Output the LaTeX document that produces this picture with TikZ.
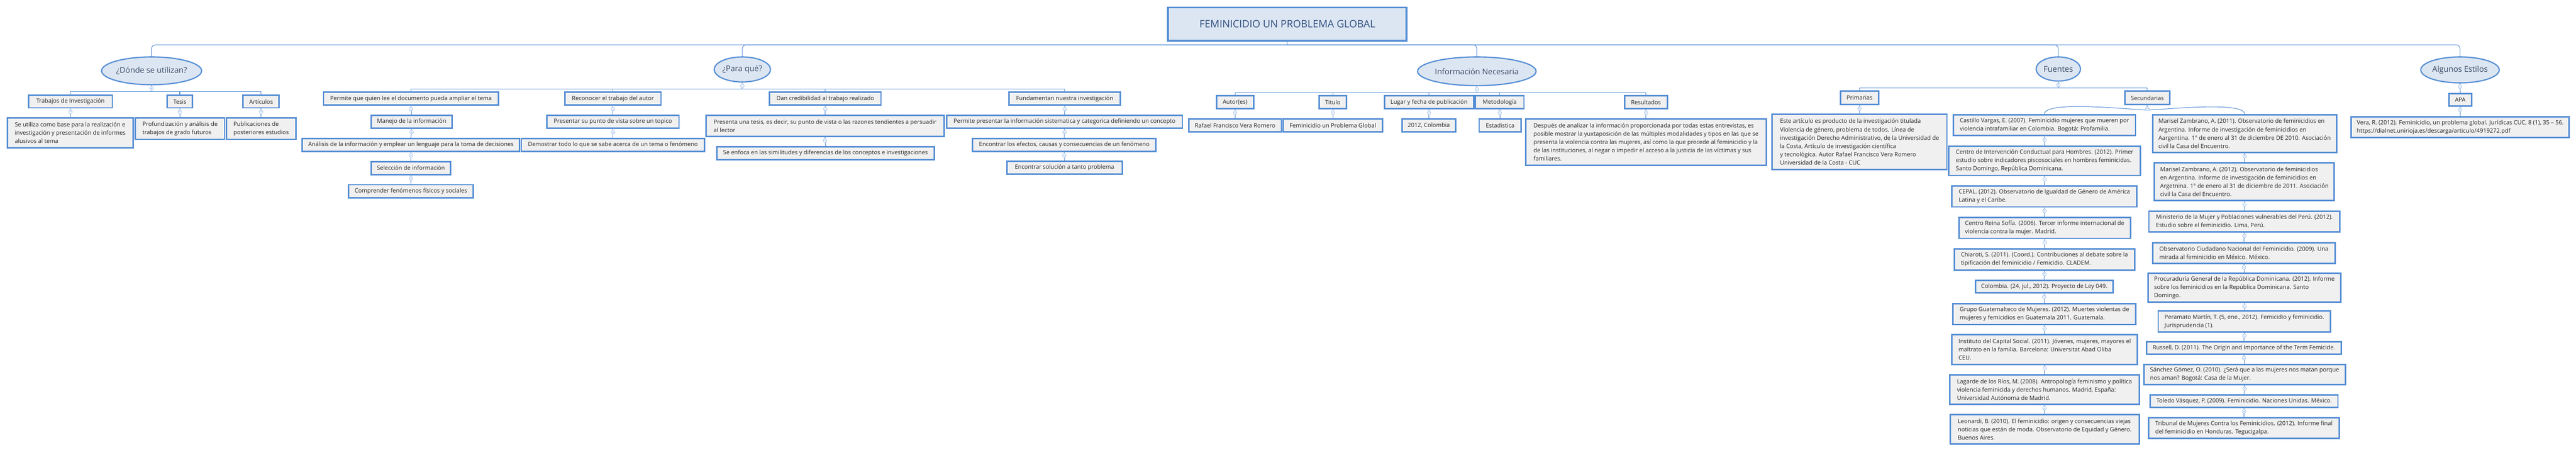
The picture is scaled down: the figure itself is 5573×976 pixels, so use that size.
\documentclass[tikz,border=0pt]{standalone}
\usepackage{fontspec}
\setmainfont{Open Sans}
\usetikzlibrary{shapes.geometric}
\definecolor{bord}{HTML}{558ED5}
\definecolor{boxf}{HTML}{F0F0F0}
\definecolor{ellf}{HTML}{DCE6F2}
\definecolor{knobc}{HTML}{A9C4EB}
\definecolor{titc}{HTML}{2F4E7E}
\definecolor{elt}{HTML}{3A4A66}
\tikzset{
  bx/.style={draw=bord,fill=boxf,line width=1.6pt,inner xsep=6pt,inner ysep=2pt,align=left,
    font=\fontsize{6.3}{9}\selectfont,text=black!85},
  ell/.style={ellipse,draw=bord,fill=ellf,line width=1.3pt,inner sep=0pt,text=elt,
    font=\fontsize{8.6}{10}\selectfont},
  conn/.style={draw=bord,line width=0.6pt},
  knob/.style={draw=knobc,fill=white,line width=0.5pt},
  knobm/.style={draw=knobc,line width=0.5pt}
}
\newcommand\bx[6]{%
  \pgfmathsetmacro\bw{(#4-#2)*0.5}\pgfmathsetmacro\bh{(#5-#3)*0.5}%
  \node[bx,minimum width=\bw pt,minimum height=\bh pt] (#1) at ({(#2+#4)/2},{(#3+#5)/2}) {#6};}
\newcommand\el[6]{\node[ell,minimum width=#4pt,minimum height=#5pt] (#1) at (#2,#3) {#6};}
\newcommand\kn[1]{\draw[knob] ([yshift=-3.5pt]#1.south) circle (2pt);
  \draw[knobm] ([yshift=-3.5pt,xshift=-1.1pt]#1.south) -- ++(2.2pt,0);}
\newcommand\ch[2]{\draw[conn] (#1.south) -- (#2.north);}
\begin{document}
\begin{tikzpicture}[x=0.5pt,y=-0.5pt]
\useasboundingbox[fill=white] (0,0) rectangle (5573,976);
% title
\node[draw=bord,fill=ellf,line width=2pt,minimum width=258pt,minimum height=36pt,text=titc,
  font=\fontsize{11}{13}\selectfont] (title) at (2785,52) {FEMINICIDIO UN PROBLEMA GLOBAL};
% main ellipses
\el{donde}{328}{153}{93}{30}{¿Dónde se utilizan?}
\el{paraque}{1606}{150}{58}{27}{¿Para qué?}
\el{info}{3195}{154}{110}{31}{Información Necesaria}
\el{fuentes}{4453}{149}{48}{26}{Fuentes}
\el{estilos}{5322}{151}{75}{28}{Algunos Estilos}
% Donde
\bx{d1}{62}{206}{243}{233}{Trabajos de Investigación}
\bx{d2}{362}{206}{416}{233}{Tesis}
\bx{d3}{526}{206}{604}{233}{Artículos}
\bx{d1a}{16}{255}{288}{319}{Se utiliza como base para la realización e\\investigación y presentación de informes\\alusivos al tema}
\bx{d2a}{293}{255}{486}{301}{Profundización y análisis de\\trabajos de grado futuros}
\bx{d3a}{490}{255}{640}{301}{Publicaciones de\\posteriores estudios}
% Para que
\bx{pa1}{700}{199}{1078}{227}{Permite que quien lee el documento pueda ampliar el tema}
\bx{pa2}{803}{249}{978}{277}{Manejo de la información}
\bx{pa3}{654}{299}{1124}{327}{Análisis de la información y emplear un lenguaje para la toma de decisiones}
\bx{pa4}{803}{349}{975}{377}{Selección de información}
\bx{pa5}{754}{399}{1024}{427}{Comprender fenómenos físicos y sociales}
\bx{pb1}{1222}{199}{1430}{227}{Reconocer el trabajo del autor}
\bx{pb2}{1183}{249}{1469}{277}{Presentar su punto de vista sobre un topico}
\bx{pb3}{1128}{299}{1524}{327}{Demostrar todo lo que se sabe acerca de un tema o fenómeno}
\bx{pc1}{1665}{199}{1906}{227}{Dan credibilidad al trabajo realizado}
\bx{pc2}{1528}{249}{2042}{295}{Presenta una tesis, es decir, su punto de vista o las razones tendientes a persuadir\\al lector}
\bx{pc3}{1551}{317}{2021}{345}{Se enfoca en las similitudes y diferencias de los conceptos e investigaciones}
\bx{pd1}{2183}{199}{2424}{227}{Fundamentan nuestra investigación}
\bx{pd2}{2048}{249}{2558}{277}{Permite presentar la información sistematica y categorica definiendo un concepto}
\bx{pd3}{2104}{299}{2501}{327}{Encontrar los efectos, causas y consecuencias de un fenómeno}
\bx{pd4}{2178}{348}{2428}{376}{Encontrar solución a tanto problema}
% Info
\bx{i1}{2632}{207}{2712}{235}{Autor(es)}
\bx{i1a}{2572}{257}{2772}{285}{Rafael Francisco Vera Romero}
\bx{i2}{2854}{207}{2913}{235}{Titulo}
\bx{i2a}{2776}{257}{2991}{285}{Feminicidio un Problema Global}
\bx{i3}{2995}{207}{3188}{235}{Lugar y fecha de publicación}
\bx{i3a}{3033}{257}{3149}{285}{2012, Colombia}
\bx{i4}{3192}{207}{3297}{235}{Metodología}
\bx{i4a}{3200}{257}{3291}{285}{Estadistica}
\bx{i5}{3515}{207}{3607}{235}{Resultados}
\bx{i5a}{3301}{257}{3821}{357}{Después de analizar la información proporcionada por todas estas entrevistas, es\\posible mostrar la yuxtaposición de las múltiples modalidades y tipos en las que se\\presenta la violencia contra las mujeres, así como la que precede al feminicidio y la\\de las instituciones, al negar o impedir el acceso a la justicia de las víctimas y sus\\familiares.}
% Fuentes
\bx{f1}{3982}{197}{4064}{226}{Primarias}
\bx{f1a}{3834}{247}{4212}{366}{Este artículo es producto de la investigación titulada\\Violencia de género, problema de todos. Línea de\\investigación Derecho Administrativo, de la Universidad de\\la Costa, Artículo de investigación científica\\y tecnológica. Autor Rafael Francisco Vera Romero\\Universidad de la Costa - CUC}
\bx{f2}{4597}{197}{4694}{226}{Secundarias}
\bx{s1}{4226}{248}{4620}{293}{Castillo Vargas, E. (2007). Feminicidio mujeres que mueren por\\violencia intrafamiliar en Colombia. Bogotá: Profamilia.}
\bx{s2}{4216}{316}{4631}{379}{Centro de Intervención Conductual para Hombres. (2012). Primer\\estudio sobre indicadores piscosociales en hombres feminicidas.\\Santo Domingo, República Dominicana.}
\bx{s3}{4223}{402}{4623}{447}{CEPAL. (2012). Observatorio de Igualdad de Género de América\\Latina y el Caribe.}
\bx{s4}{4238}{470}{4609}{515}{Centro Reina Sofía. (2006). Tercer informe internacional de\\violencia contra la mujer. Madrid.}
\bx{s5}{4228}{538}{4618}{583}{Chiaroti, S. (2011). (Coord.). Contribuciones al debate sobre la\\tipificación del feminicidio / Femicidio. CLADEM.}
\bx{s6}{4274}{606}{4571}{633}{Colombia. (24, jul., 2012). Proyecto de Ley 049.}
\bx{s7}{4225}{656}{4621}{701}{Grupo Guatemalteco de Mujeres. (2012). Muertes violentas de\\mujeres y femicidios en Guatemala 2011. Guatemala.}
\bx{s8}{4223}{723}{4624}{787}{Instituto del Capital Social. (2011). Jóvenes, mujeres, mayores el\\maltrato en la familia. Barcelona: Universitat Abad Oliba\\CEU.}
\bx{s9}{4218}{810}{4628}{873}{Lagarde de los Ríos, M. (2008). Antropología feminismo y política\\violencia feminicida y derechos humanos. Madrid, España:\\Universidad Autónoma de Madrid.}
\bx{s10}{4219}{896}{4628}{959}{Leonardi, B. (2010). El feminicidio: origen y consecuencias viejas\\noticias que están de moda. Observatorio de Equidad y Género.\\Buenos Aires.}
\bx{t1}{4657}{248}{5055}{329}{Marisel Zambrano, A. (2011). Observatorio de feminicidios en\\Argentina. Informe de investigación de feminicidios en\\Aargentina. 1° de enero al 31 de diciembre DE 2010. Asociación\\civil la Casa del Encuentro.}
\bx{t2}{4661}{352}{5050}{433}{Marisel Zambrano, A. (2012). Observatorio de feminicidios\\en Argentina. Informe de investigación de feminicidios en\\Argetnina. 1° de enero al 31 de diciembre de 2011. Asociación\\civil la Casa del Encuentro.}
\bx{t3}{4649}{456}{5062}{501}{Ministerio de la Mujer y Poblaciones vulnerables del Perú. (2012).\\Estudio sobre el feminicidio. Lima, Perú.}
\bx{t4}{4657}{524}{5052}{569}{Observatorio Ciudadano Nacional del Feminicidio. (2009). Una\\mirada al feminicidio en México. México.}
\bx{t5}{4647}{590}{5064}{653}{Procuraduría General de la República Dominicana. (2012). Informe\\sobre los feminicidios en la República Dominicana. Santo\\Domingo.}
\bx{t6}{4669}{672}{5042}{717}{Peramato Martín, T. (5, ene., 2012). Femicidio y feminicidio.\\Jurisprudencia (1).}
\bx{t7}{4644}{738}{5065}{765}{Russell, D. (2011). The Origin and Importance of the Term Femicide.}
\bx{t8}{4638}{787}{5074}{831}{Sánchez Gómez, O. (2010). ¿Será que a las mujeres nos matan porque\\nos aman? Bogotá: Casa de la Mujer.}
\bx{t9}{4652}{853}{5058}{880}{Toledo Vásquez, P. (2009). Feminicidio. Naciones Unidas. México.}
\bx{t10}{4648}{902}{5061}{947}{Tribunal de Mujeres Contra los Feminicidios. (2012). Informe final\\del feminicidio en Honduras. Tegucigalpa.}
% Estilos
\bx{a1}{5298}{202}{5347}{229}{APA}
\bx{a2}{5088}{252}{5557}{297}{Vera, R. (2012). Feminicidio, un problema global. Jurídicas CUC, 8 (1), 35 – 56.\\https://dialnet.unirioja.es/descarga/articulo/4919272.pdf}
% bars
\coordinate (bT) at (0,97);
\coordinate (bD) at (0,198);
\coordinate (bP) at (0,192);
\coordinate (bI) at (0,200);
\coordinate (bF) at (0,190);
\begin{scope}[on background layer/.style={}]
\draw[conn] (title.south) -- (title.south |- bT);
\foreach \e in {donde,paraque,info,fuentes,estilos}
  \draw[conn,rounded corners=4pt] (title.south |- bT) -| (\e.north);
\draw[conn] (donde.south) -- (donde.south |- bD);
\foreach \c in {d1,d2,d3} \draw[conn] (donde.south |- bD) -| (\c.north);
\draw[conn] (paraque.south) -- (paraque.south |- bP);
\foreach \c in {pa1,pb1,pc1,pd1} \draw[conn] (paraque.south |- bP) -| (\c.north);
\draw[conn] (info.south) -- (info.south |- bI);
\foreach \c in {i1,i2,i3,i4,i5} \draw[conn] (info.south |- bI) -| (\c.north);
\draw[conn] (fuentes.south) -- (fuentes.south |- bF);
\foreach \c in {f1,f2} \draw[conn] (fuentes.south |- bF) -| (\c.north);
\ch{d1}{d1a}\ch{d2}{d2a}\ch{d3}{d3a}
\ch{pa1}{pa2}\ch{pa2}{pa3}\ch{pa3}{pa4}\ch{pa4}{pa5}
\ch{pb1}{pb2}\ch{pb2}{pb3}
\ch{pc1}{pc2}\ch{pc2}{pc3}
\ch{pd1}{pd2}\ch{pd2}{pd3}\ch{pd3}{pd4}
\ch{i1}{i1a}\ch{i2}{i2a}\ch{i3}{i3a}\ch{i4}{i4a}\ch{i5}{i5a}
\ch{f1}{f1a}
\ch{s1}{s2}\ch{s2}{s3}\ch{s3}{s4}\ch{s4}{s5}\ch{s5}{s6}\ch{s6}{s7}\ch{s7}{s8}\ch{s8}{s9}\ch{s9}{s10}
\ch{t1}{t2}\ch{t2}{t3}\ch{t3}{t4}\ch{t4}{t5}\ch{t5}{t6}\ch{t6}{t7}\ch{t7}{t8}\ch{t8}{t9}\ch{t9}{t10}
\ch{estilos}{a1}\ch{a1}{a2}
\draw[conn] (f2.south) -- ([yshift=-5pt]f2.south) to[out=180,in=90,looseness=0.35] (s1.north);
\draw[conn] ([yshift=-5pt]f2.south) to[out=0,in=90,looseness=0.35] (t1.north);
\end{scope}
% knobs
\foreach \k in {donde,paraque,info,fuentes,estilos,d1,d2,d3,pa1,pa2,pa3,pa4,pb1,pb2,pc1,pc2,pd1,pd2,pd3,
  i1,i2,i3,i4,i5,f1,f2,s1,s2,s3,s4,s5,s6,s7,s8,s9,t1,t2,t3,t4,t5,t6,t7,t8,t9,a1} {\kn{\k}}
\end{tikzpicture}
\end{document}
